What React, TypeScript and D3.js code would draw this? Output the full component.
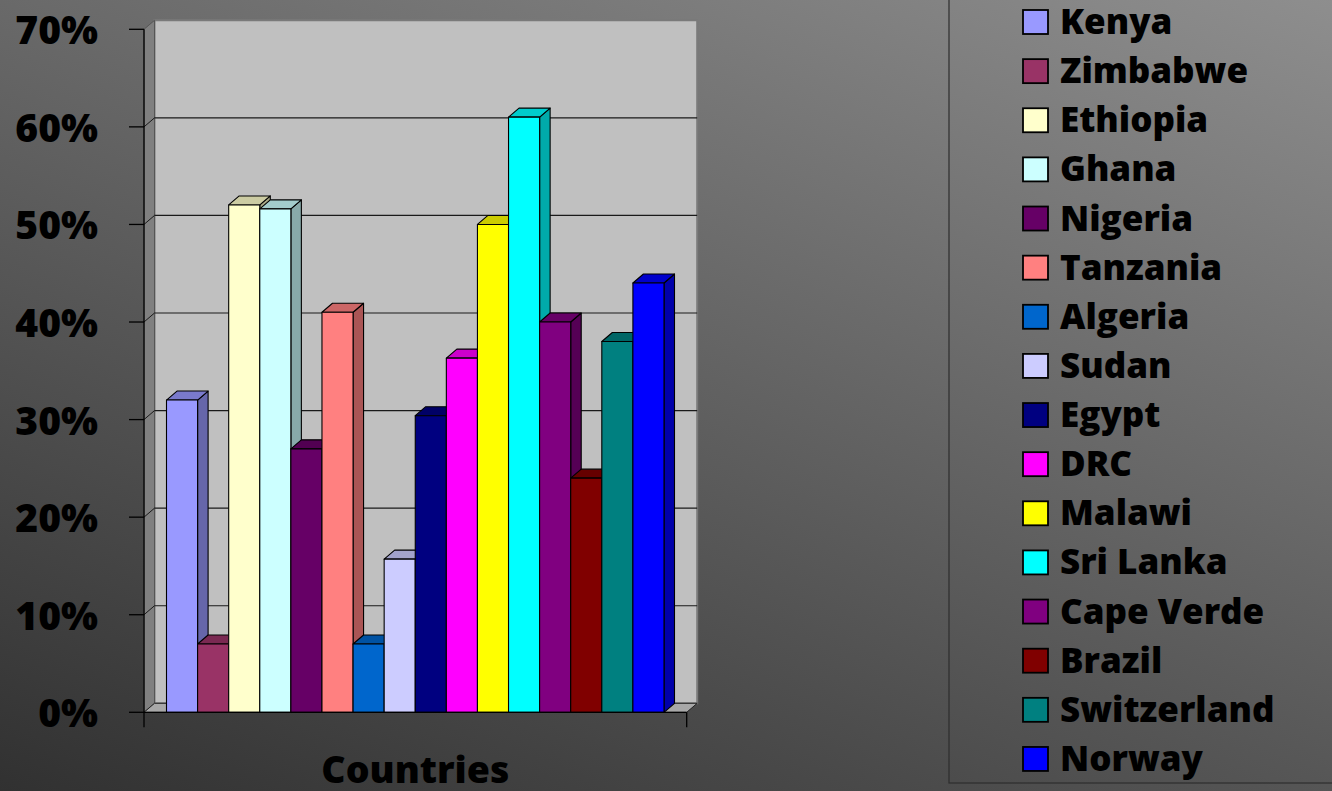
import React from "react";
import * as d3 from "d3";

// Share of respondents per country
const countries = [
  "Kenya", "Zimbabwe", "Ethiopia", "Ghana", "Nigeria", "Tanzania", "Algeria", "Sudan",
  "Egypt", "DRC", "Malawi", "Sri Lanka", "Cape Verde", "Brazil", "Switzerland", "Norway",
];
const shares = [
  0.32, 0.07, 0.52, 0.516, 0.27, 0.41, 0.07, 0.157,
  0.304, 0.363, 0.5, 0.61, 0.4, 0.24, 0.38, 0.44,
];
const palette = [
  "#9999ff", "#993366", "#ffffcc", "#ccffff", "#660066", "#ff8080", "#0066cc", "#ccccff",
  "#000080", "#ff00ff", "#ffff00", "#00ffff", "#800080", "#800000", "#008080", "#0000ff",
];
const yTicks = [0, 0.1, 0.2, 0.3, 0.4, 0.5, 0.6, 0.7];
const categoryTitle = "Countries";

const W = 1332;
const H = 791;
const FONT = "'Open Sans', 'DejaVu Sans', sans-serif";

// 3D box geometry
const frontLeft = 144;
const frontRight = 686.7;
const depthX = 10.5;
const depthY = -9;

const shade = (c: string, k: number) => {
  const r = d3.rgb(c);
  return d3.rgb(r.r * k, r.g * k, r.b * k).formatHex();
};

export default function App() {
  const y = d3.scaleLinear().domain([0, 0.7]).range([712.3, 29.3]);
  const x = d3.scaleBand<string>().domain(countries).range([166.5, 664]).padding(0);
  const fmt = d3.format(".0%");
  const y0 = y(0);
  const yTop = y(0.7);

  const wallPts = [
    [frontLeft + depthX, yTop + depthY],
    [frontRight + depthX, yTop + depthY],
    [frontRight + depthX, y0 + depthY],
    [frontLeft + depthX, y0 + depthY],
  ];
  const sidePts = [
    [frontLeft, yTop],
    [frontLeft + depthX, yTop + depthY],
    [frontLeft + depthX, y0 + depthY],
    [frontLeft, y0],
  ];
  const floorPts = [
    [frontLeft, y0],
    [frontLeft + depthX, y0 + depthY],
    [frontRight + depthX, y0 + depthY],
    [frontRight, y0],
  ];
  const pts = (p: number[][]) => p.map((q) => q.join(",")).join(" ");

  const legendX = 1023;
  const legendY0 = 10;
  const legendStep = 49.13;

  return (
    <svg
      width={W}
      height={H}
      viewBox={`0 0 ${W} ${H}`}
      style={{ position: "absolute", left: 0, top: 0, display: "block" }}
    >
      <defs>
        <linearGradient id="bg" gradientUnits="userSpaceOnUse" x1={0} y1={791} x2={442} y2={-347}>
          <stop offset="0" stopColor="#313131" />
          <stop offset="1" stopColor="#8e8e8e" />
        </linearGradient>
      </defs>
      <rect x={0} y={0} width={W} height={H} fill="url(#bg)" />

      {/* walls and floor */}
      <polygon points={pts(wallPts)} fill="#c0c0c0" stroke="#7a7a7a" strokeWidth={2} />
      <polygon points={pts(sidePts)} fill="#808080" stroke="#555" strokeWidth={1} />
      <polygon points={pts(floorPts)} fill="#a8a8a8" stroke="#222" strokeWidth={1} />

      {/* gridlines */}
      {yTicks.filter((t) => t > 0 && t < 0.7).map((t) => (
        <g key={`g${t}`}>
          <line
            x1={frontLeft + depthX}
            x2={frontRight + depthX}
            y1={y(t) + depthY}
            y2={y(t) + depthY}
            stroke="#1a1a1a"
            strokeWidth={1.2}
          />
          <line
            x1={frontLeft}
            x2={frontLeft + depthX}
            y1={y(t)}
            y2={y(t) + depthY}
            stroke="#1a1a1a"
            strokeWidth={1}
          />
        </g>
      ))}

      {/* bars */}
      {countries.map((c, i) => {
        const x0 = x(c)!;
        const x1 = x0 + x.bandwidth();
        const yv = y(shares[i]);
        const col = palette[i];
        const side = [
          [x1, yv],
          [x1 + depthX, yv + depthY],
          [x1 + depthX, y0 + depthY],
          [x1, y0],
        ];
        const top = [
          [x0, yv],
          [x0 + depthX, yv + depthY],
          [x1 + depthX, yv + depthY],
          [x1, yv],
        ];
        return (
          <g key={c} stroke="#000" strokeWidth={1.1} strokeLinejoin="round">
            <polygon points={pts(side)} fill={shade(col, 0.667)} />
            <polygon points={pts(top)} fill={shade(col, 0.8)} />
            <rect x={x0} y={yv} width={x1 - x0} height={y0 - yv} fill={col} />
          </g>
        );
      })}

      {/* axes */}
      <line x1={frontLeft} x2={frontLeft} y1={yTop} y2={y0} stroke="#000" strokeWidth={1.3} />
      <line x1={frontLeft} x2={frontRight} y1={y0} y2={y0} stroke="#000" strokeWidth={1.3} />
      <line x1={frontLeft} x2={frontLeft} y1={y0} y2={y0 + 15} stroke="#000" strokeWidth={1.3} />
      <line x1={frontRight} x2={frontRight} y1={y0} y2={y0 + 15} stroke="#000" strokeWidth={1.3} />
      {yTicks.map((t) => (
        <g key={`t${t}`}>
          <line x1={129} x2={frontLeft} y1={y(t)} y2={y(t)} stroke="#000" strokeWidth={1.3} />
          <text
            x={98}
            y={y(t) + 15}
            textAnchor="end"
            fontFamily={FONT}
            fontWeight={800}
            fontSize={39}
            fill="#000"
          >
            {fmt(t)}
          </text>
        </g>
      ))}
      <text
        x={(frontLeft + frontRight) / 2}
        y={783}
        textAnchor="middle"
        fontFamily={FONT}
        fontWeight={800}
        fontSize={37.5}
        fill="#000"
      >
        {categoryTitle}
      </text>

      {/* legend */}
      <rect x={949} y={-5} width={400} height={788} fill="none" stroke="#2e2e2e" strokeWidth={1.2} />
      {countries.map((c, i) => (
        <g key={`l${c}`}>
          <rect
            x={legendX}
            y={legendY0 + i * legendStep}
            width={25}
            height={24}
            fill={palette[i]}
            stroke="#000"
            strokeWidth={1.8}
          />
          <text
            x={1060}
            y={legendY0 + i * legendStep + 24}
            fontFamily={FONT}
            fontWeight={800}
            fontSize={35}
            fill="#000"
          >
            {c}
          </text>
        </g>
      ))}
    </svg>
  );
}
